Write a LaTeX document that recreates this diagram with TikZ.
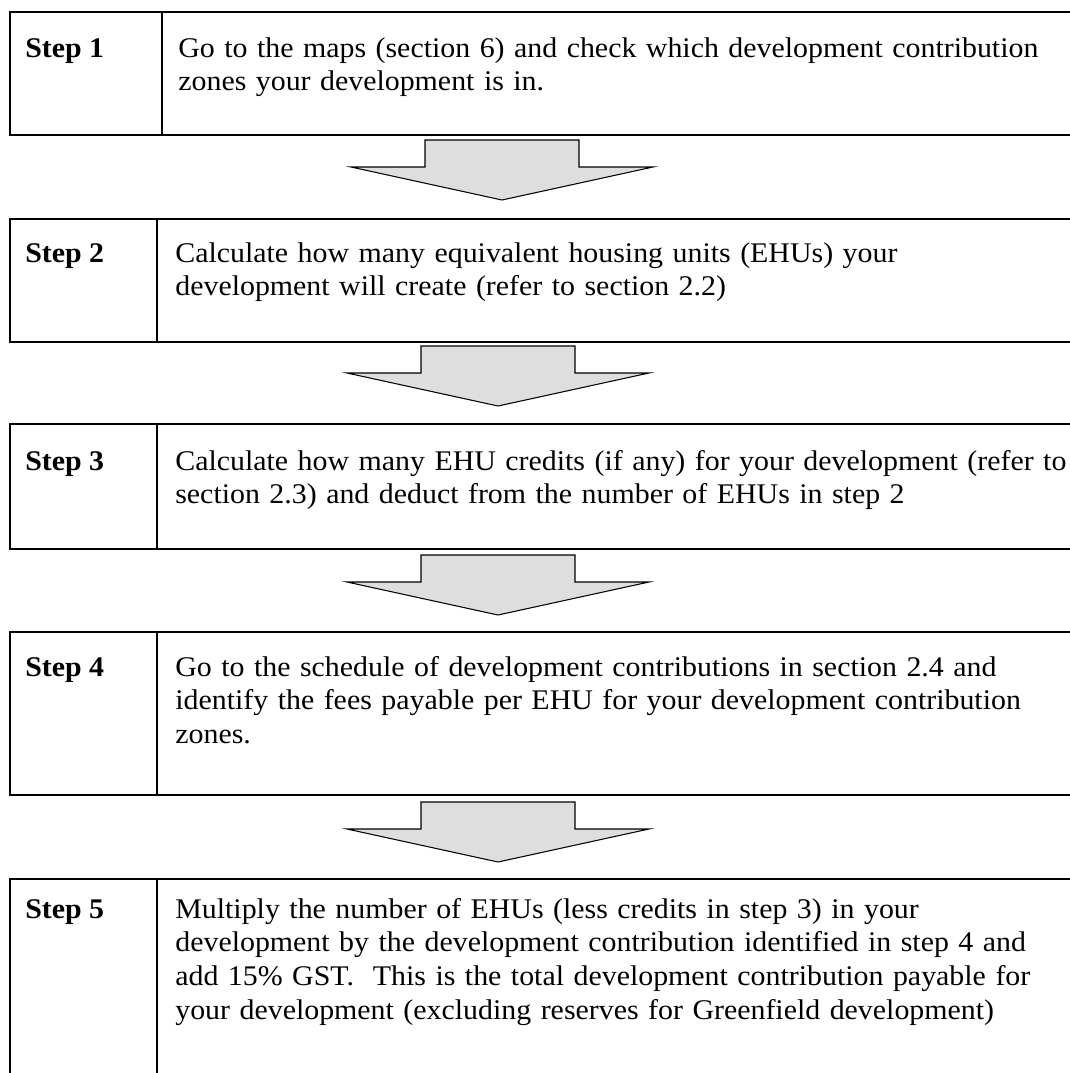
\documentclass[tikz,border=0pt]{standalone}
\usepackage{fontspec}
\setmainfont{Liberation Serif}[FakeStretch=1.05]
\begin{document}
\begin{tikzpicture}[
    x=0.02cm, y=-0.02cm,
    cell/.style={draw, line width=1.15pt},
    arrowshape/.style={draw, fill=black!13, line width=0.6pt, miter limit=20},
    steplbl/.style={anchor=base west, inner sep=0pt, font=\fontsize{16.2}{19.2}\selectfont\bfseries},
    steptxt/.style={anchor=base west, inner sep=0pt, text width=19.5cm, align=left, font=\fontsize{16.2}{19.2}\selectfont},
    downarrow/.pic={\draw[arrowshape] (-77,0) -- (77,0) -- (77,27) -- (151,27) -- (0,60) -- (-151,27) -- (-77,27) -- cycle;}
]
    \useasboundingbox (0,0) rectangle (1070,1073);

    % Table rows (open to the right)
    \foreach \top/\bot/\mid in {12/135/162, 219/342/157, 424/549/157, 632/795/157, 879/1090/157} {
        \draw[cell] (10,\top) rectangle (\mid,\bot);
        \draw[cell] (\mid,\top) rectangle (1085,\bot);
    }

    % Step 1
    \node[steplbl] (lbl1) at (25,57) {Step 1};
    \node[steptxt] (txt1) at (178,57) {Go to the maps (section 6) and check which development contribution\\zones your development is in.};

    % Step 2
    \node[steplbl] (lbl2) at (25,262) {Step 2};
    \node[steptxt] (txt2) at (175,262) {Calculate how many equivalent housing units (EHUs) your\\development will create (refer to section 2.2)};

    % Step 3
    \node[steplbl] (lbl3) at (25,470) {Step 3};
    \node[steptxt] (txt3) at (175,470) {Calculate how many EHU credits (if any) for your development (refer to\\section 2.3) and deduct from the number of EHUs in step 2};

    % Step 4
    \node[steplbl] (lbl4) at (25,676) {Step 4};
    \node[steptxt] (txt4) at (175,676) {Go to the schedule of development contributions in section 2.4 and\\identify the fees payable per EHU for your development contribution\\zones.};

    % Step 5
    \node[steplbl] (lbl5) at (25,918) {Step 5};
    \node[steptxt] (txt5) at (175,918) {Multiply the number of EHUs (less credits in step 3) in your\\development by the development contribution identified in step 4 and\\add 15\% GST.\ \ This is the total development contribution payable for\\your development (excluding reserves for Greenfield development)};

    % Block arrows between the steps
    \pic at (502,140) {downarrow};
    \pic at (498,346) {downarrow};
    \pic at (498,555) {downarrow};
    \pic at (498,802) {downarrow};

\end{tikzpicture}
\end{document}
